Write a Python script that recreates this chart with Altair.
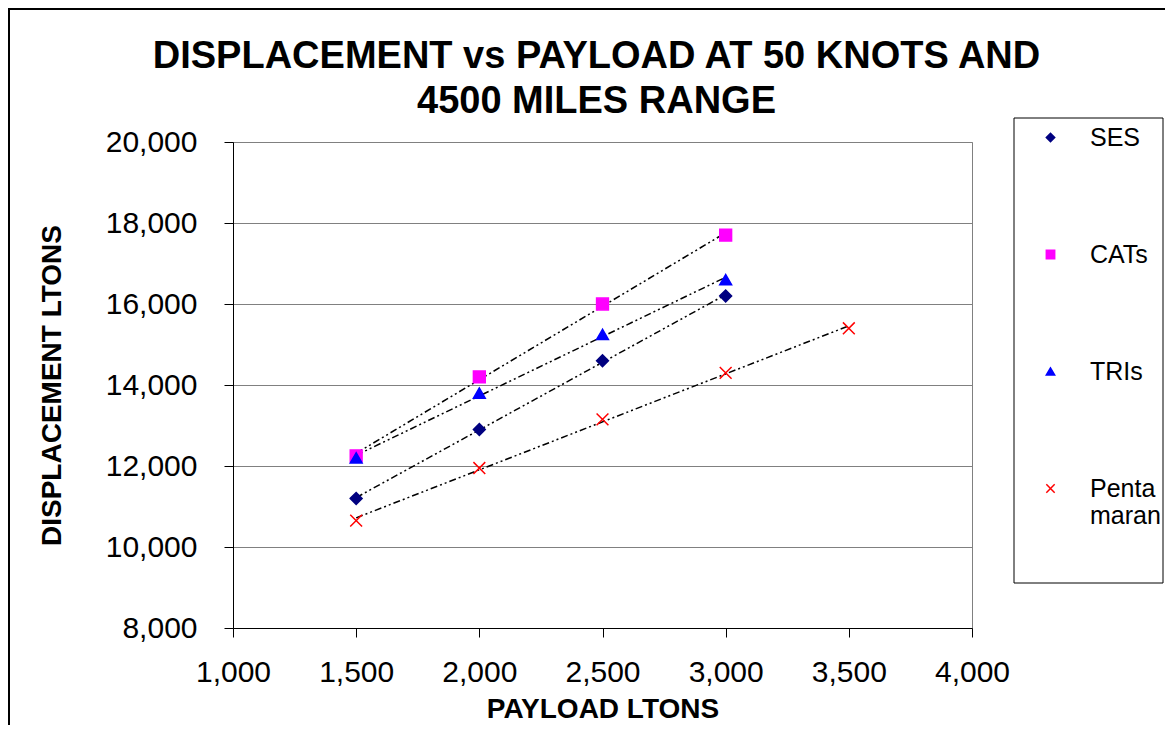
import altair as alt
import pandas as pd

FONT = "Liberation Sans"

series_names = ["SES", "CATs", "TRIs", "Pentamaran"]
payload_ses = [1500, 2000, 2500, 3000]
disp_ses = [11200, 12900, 14600, 16200]
payload_cats = [1500, 2000, 2500, 3000]
disp_cats = [12250, 14200, 16000, 17700]
payload_tris = [1500, 2000, 2500, 3000]
disp_tris = [12200, 13800, 15250, 16600]
payload_penta = [1500, 2000, 2500, 3000, 3500]
disp_penta = [10650, 11950, 13150, 14300, 15400]

colors = ["#000080", "#FF00FF", "#0000FF", "#FF0000"]
shapes = ["diamond", "square", "triangle-up", "M-1,-1L1,1M-1,1L1,-1"]

x_ticks = [1000, 1500, 2000, 2500, 3000, 3500, 4000]
y_ticks = [8000, 10000, 12000, 14000, 16000, 18000, 20000]

rows = []
for name, xs, ys in [("SES", payload_ses, disp_ses), ("CATs", payload_cats, disp_cats),
                     ("TRIs", payload_tris, disp_tris), ("Pentamaran", payload_penta, disp_penta)]:
    for a, b in zip(xs, ys):
        rows.append({"series": name, "payload": a, "disp": b})
df = pd.DataFrame(rows)

xenc = alt.X("payload:Q", scale=alt.Scale(domain=[1000, 4000], nice=False),
             axis=alt.Axis(values=x_ticks, format=",.0f", title="PAYLOAD LTONS", grid=False,
                           labelFlush=False))
yenc = alt.Y("disp:Q", scale=alt.Scale(domain=[8000, 20000], nice=False),
             axis=alt.Axis(values=y_ticks, format=",.0f", title="DISPLACEMENT LTONS", grid=True,
                           labelFlush=False))

base = alt.Chart(df)

lines = base.transform_regression("payload", "disp", groupby=["series"]).mark_line(
    color="black", strokeWidth=1.5, strokeDash=[7, 3, 2, 3, 2, 3]
).encode(x=xenc, y=yenc, detail="series:N")

points = base.mark_point(filled=True, size=140, strokeWidth=1.5, opacity=1).encode(
    x=xenc, y=yenc,
    fill=alt.Fill("series:N", scale=alt.Scale(domain=series_names, range=colors), legend=None),
    stroke=alt.Stroke("series:N", scale=alt.Scale(domain=series_names, range=colors), legend=None),
    shape=alt.Shape("series:N", scale=alt.Scale(domain=series_names, range=shapes),
                    legend=alt.Legend(
                        title=None, orient="none", legendX=805, legendY=-17,
                        labelFont=FONT, labelFontSize=25, labelColor="black",
                        labelOffset=27, rowPadding=91, symbolSize=70,
                        symbolStrokeWidth=1.5, symbolFillColor="black",
                        labelExpr="datum.label == 'Pentamaran' ? ['Penta', 'maran'] : datum.label",
                        labelLimit=200,
                    )),
)

legend_box = alt.Chart(pd.DataFrame({"k": [0]})).mark_rect(
    fill=None, stroke="black", strokeWidth=1
).encode(x=alt.value(781), x2=alt.value(930), y=alt.value(-24), y2=alt.value(441))

outer_box = alt.Chart(pd.DataFrame({"k": [0]})).mark_rect(
    fill=None, stroke="black", strokeWidth=2
).encode(x=alt.value(-224), x2=alt.value(960), y=alt.value(-133), y2=alt.value(640))

chart = alt.layer(outer_box, legend_box, lines, points).properties(
    width=739, height=486,
    autosize=alt.AutoSizeParams(type="none"),
    padding={"left": 225, "top": 134, "right": 193, "bottom": 97},
    title=alt.TitleParams(
        text=["DISPLACEMENT vs PAYLOAD AT 50 KNOTS AND", "4500 MILES RANGE"],
        font=FONT, fontSize=38, fontWeight="bold", color="black",
        anchor="middle", offset=-113, lineHeight=45, dx=-6,
    ),
).configure_view(
    stroke="#808080", strokeWidth=1
).configure_axis(
    labelFont=FONT, labelFontSize=30, labelColor="black",
    titleFont=FONT, titleFontSize=28, titleFontWeight="bold", titleColor="black",
    domainColor="black", domainWidth=1, tickColor="black", tickSize=9, tickWidth=1,
    gridColor="#808080", gridWidth=1,
).configure_axisX(
    labelPadding=20, titlePadding=8,
).configure_axisY(
    labelPadding=27, titlePadding=39,
)

chart.save("out.html", embed_options={"renderer": "svg", "actions": False})
